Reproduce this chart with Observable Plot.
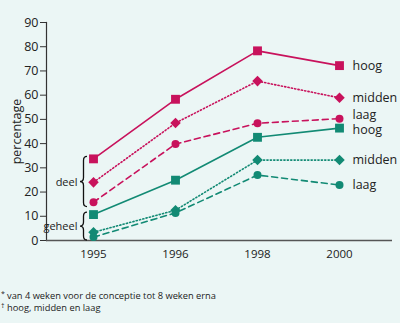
<!DOCTYPE html>
<html>
<head>
<meta charset="utf-8">
<script src="https://cdn.jsdelivr.net/npm/d3@7"></script>
<script src="https://cdn.jsdelivr.net/npm/@observablehq/plot@0.6"></script>
<style>
  html, body { margin: 0; padding: 0; background: #ebf6f5; }
  body { width: 400px; height: 323px; overflow: hidden; font-family: "Open Sans", sans-serif; }
  #foot { font-size: 9.3px; line-height: 11.5px; color: #222; margin: 10px 0 0 1px; }
  #foot .m { display: inline-block; width: 6px; font-size: 7px; vertical-align: top; line-height: 8px; }
</style>
</head>
<body>
<div id="chart"></div>
<div id="foot">
  <div><span class="m">*</span>van 4 weken voor de conceptie tot 8 weken erna</div>
  <div><span class="m">†</span>hoog, midden en laag</div>
</div>
<script>
const years = ["1995", "1996", "1998", "2000"];
const levels = ["hoog", "midden", "laag"];
const groups = ["deel", "geheel"];
const deelHoog   = [33.7, 58.3, 78.3, 72.2];
const deelMidden = [24.0, 48.5, 65.8, 58.9];
const deelLaag   = [15.8, 39.8, 48.4, 50.3];
const geheelHoog   = [10.7, 24.9, 42.6, 46.4];
const geheelMidden = [3.4, 12.5, 33.2, 33.2];
const geheelLaag   = [1.4, 11.4, 27.0, 22.9];
const yTicks = [0, 10, 20, 30, 40, 50, 60, 70, 80, 90];

const seriesValues = {
  deel: {hoog: deelHoog, midden: deelMidden, laag: deelLaag},
  geheel: {hoog: geheelHoog, midden: geheelMidden, laag: geheelLaag}
};
const colors = {deel: "#c8125c", geheel: "#128a74"};
const dashes = {hoog: null, midden: "1.2,2.2", laag: "6,4"};

const data = [];
for (const g of groups) for (const l of levels)
  seriesValues[g][l].forEach((v, i) => data.push({group: g, level: l, year: years[i], value: v}));

const last = data.filter(d => d.year === "2000");
const isUp = d => d.group === "deel" && d.level === "laag";
const isDown = d => d.group === "geheel" && d.level === "hoog";

const braces = groups.map(g => {
  const vals = levels.map(l => seriesValues[g][l][0]);
  const top = d3.max(vals) + 0.8, bottom = Math.max(0, d3.min(vals) - 2);
  return {group: g, top, bottom, mid: (top + bottom) / 2};
});

// square rotated 45 degrees (equal-sided diamond)
const rhombus = {
  draw(context, size) {
    const r = Math.sqrt(size / 2);
    context.moveTo(0, -r); context.lineTo(r, 0); context.lineTo(0, r); context.lineTo(-r, 0); context.closePath();
  }
};

const braceMark = (index, scales) => {
  const g = d3.create("svg:g");
  const x0 = scales.x("1995") - 6;
  const w = 7, h = w / 2;
  for (const b of braces) {
    const y1 = scales.y(b.top), y2 = scales.y(b.bottom), ym = (y1 + y2) / 2;
    const q = Math.min(4, (y2 - y1) / 4);
    const xm = x0 - h, xt = x0 - w;
    const p = `M${x0},${y1} Q${xm},${y1} ${xm},${y1 + q} L${xm},${ym - q} Q${xm},${ym} ${xt},${ym} Q${xm},${ym} ${xm},${ym + q} L${xm},${y2 - q} Q${xm},${y2} ${x0},${y2}`;
    g.append("path").attr("d", p).attr("fill", "none").attr("stroke", "#111").attr("stroke-width", 1.3);
  }
  return g.node();
};

const lineMarks = [];
for (const g of groups) for (const l of levels) {
  lineMarks.push(Plot.line(data.filter(d => d.group === g && d.level === l), {
    x: "year", y: "value", stroke: colors[g], strokeWidth: 1.6, strokeDasharray: dashes[l]
  }));
}

const plot = Plot.plot({
  width: 400,
  height: 280,
  marginLeft: 46,
  marginRight: 8,
  marginTop: 22,
  marginBottom: 40,
  style: {background: "#ebf6f5", fontFamily: "Open Sans, sans-serif", color: "#222"},
  x: {type: "point", domain: years, range: [92, 340], padding: 0},
  y: {domain: [0, 90], range: [240, 22]},
  marks: [
    Plot.frame({anchor: "left", stroke: "#333", strokeWidth: 1.2}),
    Plot.ruleY([0], {stroke: "#555", strokeWidth: 1.5}),
    Plot.axisY({ticks: yTicks, tickSize: 6, tickPadding: 2, fontSize: 12.5, label: "percentage", labelAnchor: "center", labelOffset: 34, labelArrow: "none", stroke: "#333"}),
    Plot.axisX({tickSize: 0, tickPadding: 9, fontSize: 11.5, label: null}),
    ...lineMarks,
    Plot.dot(data.filter(d => d.level === "hoog"), {x: "year", y: "value", symbol: "square", r: 5, fill: d => colors[d.group], stroke: null}),
    Plot.dot(data.filter(d => d.level === "midden"), {x: "year", y: "value", symbol: rhombus, r: 4.2, fill: d => colors[d.group], stroke: null}),
    Plot.dot(data.filter(d => d.level === "laag"), {x: "year", y: "value", symbol: "circle", r: 4, fill: d => colors[d.group], stroke: null}),
    Plot.text(last.filter(d => !isUp(d) && !isDown(d)), {x: "year", y: "value", text: "level", dx: 13, textAnchor: "start", fontSize: 12.5, fill: "#222"}),
    Plot.text(last.filter(isUp), {x: "year", y: "value", text: "level", dx: 13, dy: -4, textAnchor: "start", fontSize: 12.5, fill: "#222"}),
    Plot.text(last.filter(isDown), {x: "year", y: "value", text: "level", dx: 13, dy: 1.5, textAnchor: "start", fontSize: 12.5, fill: "#222"}),
    braceMark,
    Plot.text(braces, {x: () => "1995", y: "mid", text: "group", dx: -16, textAnchor: "end", fontSize: 11, fill: "#222"})
  ]
});
document.getElementById("chart").append(plot);
</script>
</body>
</html>
